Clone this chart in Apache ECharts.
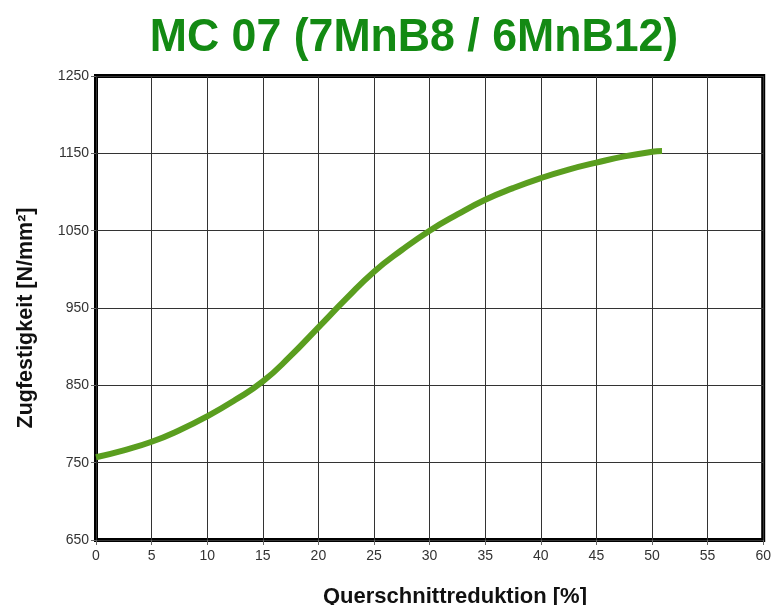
<!DOCTYPE html>
<html><head><meta charset="utf-8">
<script src="https://cdn.jsdelivr.net/npm/echarts@6/dist/echarts.min.js"></script>
<style>html,body{margin:0;padding:0;background:#fff}#c{width:774px;height:605px}</style>
</head><body><div id="c"></div>
<script>
const titleText = 'MC 07 (7MnB8 / 6MnB12)';
const xName = 'Querschnittreduktion [%]';
const yName = 'Zugfestigkeit [N/mm²]';
const reduction = [0, 2.5, 5, 7.5, 10, 12.5, 15, 17.5, 20, 22.5, 25, 27.5, 30, 32.5, 35, 37.5, 40, 42.5, 45, 47.5, 50, 50.9];
const strength  = [757, 766, 777, 792, 810, 831, 855, 888, 925, 962, 997, 1025, 1050, 1071, 1090, 1105, 1118, 1129, 1138, 1146, 1152, 1153];
const data = reduction.map((x, i) => [x, strength[i]]);
const chart = echarts.init(document.getElementById('c'));
chart.setOption({
  animation: false,
  backgroundColor: '#fff',
  grid: { left: 96, right: 6, top: 76, bottom: 65, show: true, borderWidth: 4, borderColor: '#000', backgroundColor: '#fff' },
  xAxis: {
    type: 'value', min: 0, max: 60, interval: 5,
    axisLine: { show: false },
    axisTick: { show: true, length: 5, lineStyle: { color: '#666' } },
    axisLabel: { color: '#333', fontSize: 14, margin: 9, fontFamily: 'Liberation Sans, sans-serif' },
    splitLine: { show: true, lineStyle: { color: '#333', width: 1 } }
  },
  yAxis: {
    type: 'value', min: 650, max: 1250, interval: 100,
    axisLine: { show: false },
    axisTick: { show: true, length: 5, lineStyle: { color: '#666' } },
    axisLabel: { color: '#333', fontSize: 14, margin: 7, fontFamily: 'Liberation Sans, sans-serif', formatter: v => String(v) },
    splitLine: { show: true, lineStyle: { color: '#333', width: 1 } }
  },
  graphic: [
    { type: 'text', x: 414, y: 38, scaleX: 0.95, scaleY: 1,
      style: { text: titleText, font: 'bold 47px Liberation Sans, sans-serif', fill: '#138a13', align: 'center', verticalAlign: 'middle' } },
    { type: 'text', x: 455, y: 586, style: { text: xName, font: 'bold 22px Liberation Sans, sans-serif', fill: '#111', align: 'center', verticalAlign: 'top' } },
    { type: 'text', rotation: Math.PI / 2, x: 26, y: 318, style: { text: yName, font: 'bold 21.5px Liberation Sans, sans-serif', fill: '#111', align: 'center', verticalAlign: 'middle' } }
  ],
  series: [{
    type: 'line', data: data, smooth: true, symbol: 'none',
    lineStyle: { color: '#5a9e1f', width: 6 }
  }]
});
</script></body></html>
